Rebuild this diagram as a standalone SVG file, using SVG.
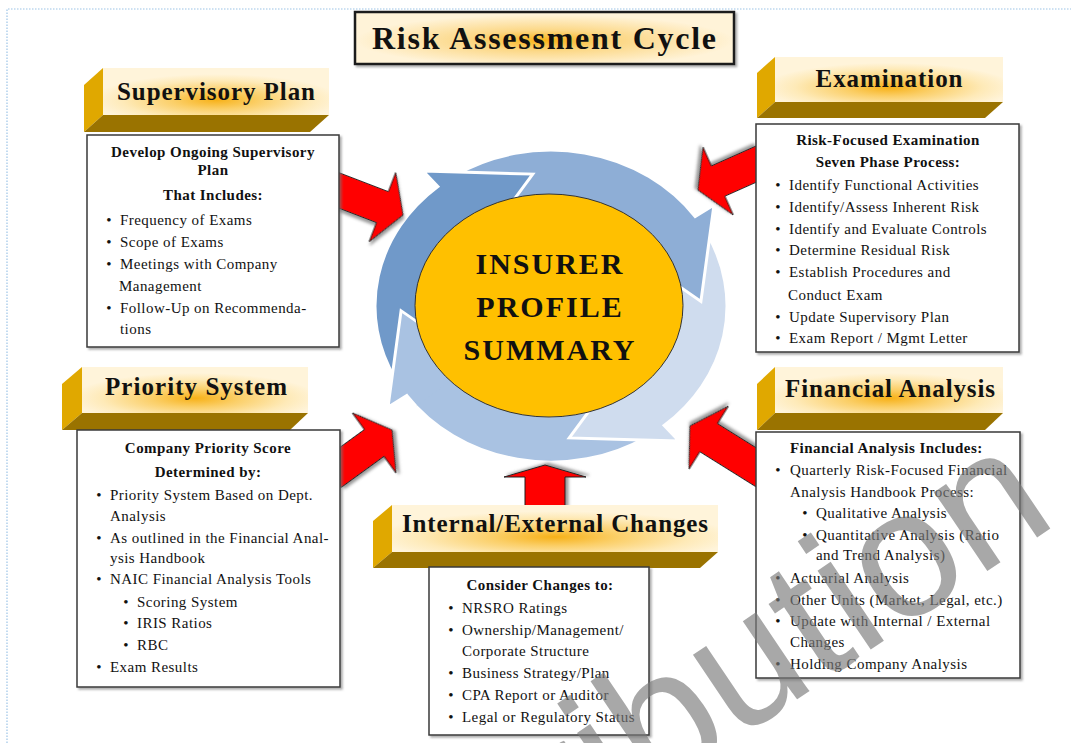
<svg xmlns="http://www.w3.org/2000/svg" width="1071" height="743" viewBox="0 0 1071 743">
<defs>
<radialGradient id="hg" cx="0.5" cy="0.68" r="0.55">
<stop offset="0" stop-color="#f7b118"/>
<stop offset="0.35" stop-color="#fbcf68"/>
<stop offset="0.75" stop-color="#feeab8"/>
<stop offset="1" stop-color="#fff4da"/>
</radialGradient>
<radialGradient id="tg" cx="0.5" cy="0.55" r="0.5">
<stop offset="0" stop-color="#f8b418"/>
<stop offset="0.4" stop-color="#fcd887"/>
<stop offset="1" stop-color="#fff3d8"/>
</radialGradient>
<filter id="sh" x="-5%" y="-5%" width="115%" height="115%">
<feDropShadow dx="2" dy="2" stdDeviation="1" flood-color="#777" flood-opacity="0.6"/>
</filter>
<filter id="rsh" x="-20%" y="-20%" width="150%" height="150%">
<feDropShadow dx="2" dy="3" stdDeviation="1.5" flood-color="#555" flood-opacity="0.6"/>
</filter>
<clipPath id="dclip" clipPathUnits="userSpaceOnUse">
<polygon points="0,0 -199.2,167.1 -244.3,-88.9"/>
</clipPath>
<path id="arrD" d="M 95.86 147.61 A 176 176 0 0 1 -144.17 100.95 L -163.01 114.14 L -149.91 5.24 L -82.73 57.93 L -101.57 71.12 A 124 124 0 0 0 67.54 104.00 Z"/>
<style>
.t{font-family:"Liberation Serif","Times New Roman",serif;font-size:15px;letter-spacing:0.45px;fill:#111}
.b{font-weight:bold}
.c{text-anchor:middle}
.hd{font-family:"Liberation Serif","Times New Roman",serif;font-weight:bold;font-size:25px;fill:#111;text-anchor:middle}
.box{fill:#fff;stroke:#3a3a3a;stroke-width:1.5;filter:url(#sh)}
.front{fill:url(#hg)}
.lside{fill:#e0a800}
.bside{fill:#9a7300}
.ra{fill:#ff0000;stroke:#222;stroke-width:1;filter:url(#rsh)}
.cy{stroke:#fff;stroke-width:3;vector-effect:non-scaling-stroke}
.ct{font-family:"Liberation Serif","Times New Roman",serif;font-weight:bold;font-size:30px;letter-spacing:2px;fill:#111;text-anchor:middle}
</style>
</defs>

<rect x="0" y="0" width="1071" height="743" fill="#fff"/>
<path d="M7 743 V9 H1071" fill="none" stroke="#9cc3e6" stroke-width="1.2" stroke-dasharray="1.5 1.5"/>

<g id="cycle" transform="translate(551 306) scale(1 0.886)">
<use href="#arrD" class="cy" fill="#a9c2e2"/>
<path class="cy" fill="#cfdcee" d="M 155.40 -82.63 A 176 176 0 0 1 113.13 134.82 L 127.92 152.44 L 18.28 148.88 L 64.92 77.37 L 79.71 94.99 A 124 124 0 0 0 109.49 -58.21 Z"/>
<path class="cy" fill="#8eaed6" d="M -95.86 -147.61 A 176 176 0 0 1 144.17 -100.95 L 163.01 -114.14 L 149.91 -5.24 L 82.73 -57.93 L 101.57 -71.12 A 124 124 0 0 0 -67.54 -104.00 Z"/>
<path class="cy" fill="#7099c9" d="M -155.40 82.63 A 176 176 0 0 1 -113.13 -134.82 L -127.92 -152.44 L -18.28 -148.88 L -64.92 -77.37 L -79.71 -94.99 A 124 124 0 0 0 -109.49 58.21 Z"/>
<use href="#arrD" class="cy" fill="#a9c2e2" clip-path="url(#dclip)"/>
</g>

<g id="center">
<ellipse cx="549" cy="305.5" rx="134" ry="111.5" fill="#ffc000" stroke="#333" stroke-width="1"/>
<text class="ct" x="550" y="274">INSURER</text>
<text class="ct" x="550" y="317">PROFILE</text>
<text class="ct" x="550" y="360">SUMMARY</text>
</g>

<g id="connectors">
<polygon class="ra" transform="translate(403 215) rotate(21)" points="0,0 -22,-37 -22,-16.5 -75,-16.5 -75,16.5 -22,16.5 -22,37"/>
<polygon class="ra" transform="translate(698 190) rotate(156)" points="0,0 -22,-37 -22,-16.5 -72,-16.5 -72,16.5 -22,16.5 -22,37"/>
<polygon class="ra" transform="translate(392 430) rotate(-36)" points="0,0 -22,-37 -22,-16.5 -75,-16.5 -75,16.5 -22,16.5 -22,37"/>
<polygon class="ra" transform="translate(690 426) rotate(212)" points="0,0 -22,-37 -22,-16.5 -88,-16.5 -88,16.5 -22,16.5 -22,37"/>
<polygon class="ra" transform="translate(545 465) rotate(-90)" points="0,0 -12,-41 -12,-20 -45,-20 -45,20 -12,20 -12,41"/>
</g>

<g id="title">
<rect x="355" y="12" width="379" height="52" fill="url(#tg)" stroke="#1a1a1a" stroke-width="2.5" filter="url(#sh)"/>
<text x="544" y="49" font-family="Liberation Serif, Times New Roman, serif" font-weight="bold" font-size="32" fill="#111" text-anchor="middle" textLength="344" lengthAdjust="spacing">Risk Assessment Cycle</text>
</g>

<g id="supervisory-plan">
<polygon class="lside" points="103,68 103,115 84,132 84,85"/>
<polygon class="bside" points="103,115 329,115 310,132 84,132"/>
<rect class="front" x="103" y="68" width="226" height="47"/>
<text class="hd" x="216" y="100" textLength="198" lengthAdjust="spacing">Supervisory Plan</text>
<rect class="box" x="87" y="135" width="252" height="212"/>
<text class="t b c" x="213" y="157">Develop Ongoing Supervisory</text>
<text class="t b c" x="213" y="175">Plan</text>
<text class="t b c" x="213" y="200">That Includes:</text>
<text class="t c" x="109" y="225">•</text><text class="t" x="120" y="225">Frequency of Exams</text>
<text class="t c" x="109" y="247">•</text><text class="t" x="120" y="247">Scope of Exams</text>
<text class="t c" x="109" y="269">•</text><text class="t" x="120" y="269">Meetings with Company</text>
<text class="t" x="119" y="291">Management</text>
<text class="t c" x="109" y="313">•</text><text class="t" x="120" y="313">Follow-Up on Recommenda-</text>
<text class="t" x="120" y="334">tions</text>
</g>

<g id="examination">
<polygon class="lside" points="775,57 775,102 757,118 757,73"/>
<polygon class="bside" points="775,102 1003,102 985,118 757,118"/>
<rect class="front" x="775" y="57" width="228" height="45"/>
<text class="hd" x="889" y="87" textLength="147" lengthAdjust="spacing">Examination</text>
<rect class="box" x="756" y="124" width="263" height="228"/>
<text class="t b c" x="888" y="145">Risk-Focused Examination</text>
<text class="t b c" x="888" y="167">Seven Phase Process:</text>
<text class="t c" x="778" y="190">•</text><text class="t" x="789" y="190">Identify Functional Activities</text>
<text class="t c" x="778" y="212">•</text><text class="t" x="789" y="212">Identify/Assess Inherent Risk</text>
<text class="t c" x="778" y="234">•</text><text class="t" x="789" y="234">Identify and Evaluate Controls</text>
<text class="t c" x="778" y="255">•</text><text class="t" x="789" y="255">Determine Residual Risk</text>
<text class="t c" x="778" y="277">•</text><text class="t" x="789" y="277">Establish Procedures and</text>
<text class="t" x="788" y="300">Conduct Exam</text>
<text class="t c" x="778" y="322">•</text><text class="t" x="789" y="322">Update Supervisory Plan</text>
<text class="t c" x="778" y="343">•</text><text class="t" x="789" y="343">Exam Report / Mgmt Letter</text>
</g>

<g id="priority-system">
<polygon class="lside" points="82,367 82,413 62,430 62,384"/>
<polygon class="bside" points="82,413 308,413 290,430 62,430"/>
<rect class="front" x="82" y="367" width="226" height="46"/>
<text class="hd" x="196" y="395" textLength="182" lengthAdjust="spacing">Priority System</text>
<rect class="box" x="77" y="430" width="263" height="257"/>
<text class="t b c" x="208" y="453">Company Priority Score</text>
<text class="t b c" x="208" y="477">Determined by:</text>
<text class="t c" x="99" y="500">•</text><text class="t" x="110" y="500">Priority System Based on Dept.</text>
<text class="t" x="110" y="521">Analysis</text>
<text class="t c" x="99" y="543">•</text><text class="t" x="110" y="543">As outlined in the Financial Anal-</text>
<text class="t" x="110" y="563">ysis Handbook</text>
<text class="t c" x="99" y="584">•</text><text class="t" x="110" y="584">NAIC Financial Analysis Tools</text>
<text class="t c" x="126" y="607">•</text><text class="t" x="137" y="607">Scoring System</text>
<text class="t c" x="126" y="628">•</text><text class="t" x="137" y="628">IRIS Ratios</text>
<text class="t c" x="126" y="650">•</text><text class="t" x="137" y="650">RBC</text>
<text class="t c" x="99" y="672">•</text><text class="t" x="110" y="672">Exam Results</text>
</g>

<g id="financial-analysis">
<polygon class="lside" points="775,367 775,413 757,430 757,384"/>
<polygon class="bside" points="775,413 1003,413 985,430 757,430"/>
<rect class="front" x="775" y="367" width="228" height="46"/>
<text class="hd" x="890" y="397" textLength="210" lengthAdjust="spacing">Financial Analysis</text>
<rect class="box" x="756" y="432" width="264" height="246"/>
<text class="t b" x="790" y="453">Financial Analysis Includes:</text>
<text class="t c" x="778" y="475">•</text><text class="t" x="790" y="475">Quarterly Risk-Focused Financial</text>
<text class="t" x="790" y="497">Analysis Handbook Process:</text>
<text class="t c" x="805" y="518">•</text><text class="t" x="816" y="518">Qualitative Analysis</text>
<text class="t c" x="805" y="540">•</text><text class="t" x="816" y="540">Quantitative Analysis (Ratio</text>
<text class="t" x="816" y="560">and Trend Analysis)</text>
<text class="t c" x="778" y="583">•</text><text class="t" x="790" y="583">Actuarial Analysis</text>
<text class="t c" x="778" y="605">•</text><text class="t" x="790" y="605">Other Units (Market, Legal, etc.)</text>
<text class="t c" x="778" y="626">•</text><text class="t" x="790" y="626">Update with Internal / External</text>
<text class="t" x="790" y="647">Changes</text>
<text class="t c" x="778" y="669">•</text><text class="t" x="790" y="669">Holding Company Analysis</text>
</g>

<g id="internal-external-changes">
<polygon class="lside" points="392,505 392,552 373,568 373,521"/>
<polygon class="bside" points="392,552 718,552 700,568 373,568"/>
<rect class="front" x="392" y="505" width="326" height="47"/>
<text class="hd" x="555" y="532" textLength="306" lengthAdjust="spacing">Internal/External Changes</text>
<rect class="box" x="429" y="567" width="220" height="168"/>
<text class="t b c" x="540" y="590">Consider Changes to:</text>
<text class="t c" x="451" y="613">•</text><text class="t" x="462" y="613">NRSRO Ratings</text>
<text class="t c" x="451" y="635">•</text><text class="t" x="462" y="635">Ownership/Management/</text>
<text class="t" x="462" y="656">Corporate Structure</text>
<text class="t c" x="451" y="678">•</text><text class="t" x="462" y="678">Business Strategy/Plan</text>
<text class="t c" x="451" y="700">•</text><text class="t" x="462" y="700">CPA Report or Auditor</text>
<text class="t c" x="451" y="722">•</text><text class="t" x="462" y="722">Legal or Regulatory Status</text>
</g>

<text x="1060" y="522" transform="rotate(-34 1060 522)" text-anchor="end" font-family="Liberation Sans, Arial, sans-serif" font-size="180" fill="#7a7a7a" opacity="0.65">Distribution</text>
</svg>
